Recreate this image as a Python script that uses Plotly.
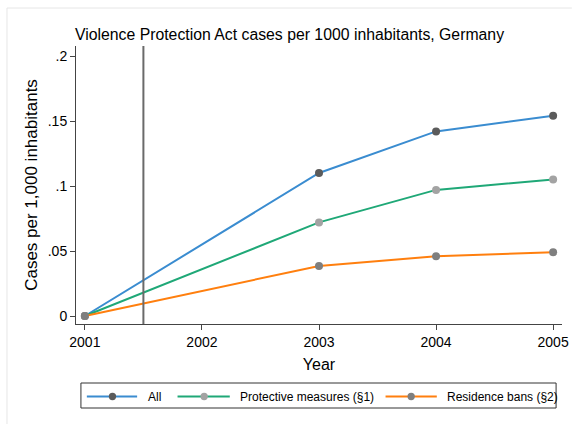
import plotly.graph_objects as go

# Violence Protection Act cases per 1,000 inhabitants
years = [2001, 2003, 2004, 2005]
all_cases = [0.0, 0.110, 0.142, 0.154]
protective = [0.0, 0.072, 0.097, 0.105]
residence = [0.0, 0.0385, 0.046, 0.049]

series_names = ["All", "Protective measures (§1)", "Residence bans (§2)"]
line_colors = ["#3a8cd0", "#1fa877", "#ff7f0e"]
marker_colors = ["#5b5b5b", "#a3a3a3", "#7f7f7f"]

y_tickvals = [0, 0.05, 0.1, 0.15, 0.2]
y_ticktext = ["0", ".05", ".1", ".15", ".2"]
x_tickvals = [2001, 2002, 2003, 2004, 2005]
law_year = 2001.5

W, H = 579, 424
L, R, T, B = 76, 10, 46, 100
PW, PH = W - L - R, H - T - B

FONT = "Liberation Sans, Arial, Helvetica, sans-serif"


def px_x(px):
    return (px - L) / PW


def px_y(py):
    return (H - B - py) / PH


fig = go.Figure()
for vals, name, lc, mc in zip([all_cases, protective, residence],
                              series_names, line_colors, marker_colors):
    fig.add_trace(go.Scatter(
        x=years, y=vals, name=name, mode="lines+markers",
        line=dict(color=lc, width=2),
        marker=dict(color=mc, size=8),
        showlegend=False,
    ))

shapes = [
    # reference year line
    dict(type="line", xref="x", yref="paper", x0=law_year, x1=law_year,
         y0=0, y1=1, line=dict(color="#6a6a6a", width=2)),
    # outer frame
    dict(type="line", xref="paper", yref="paper", x0=px_x(6), x1=px_x(W),
         y0=px_y(8), y1=px_y(8), line=dict(color="#e6e6e6", width=1)),
    dict(type="line", xref="paper", yref="paper", x0=px_x(6), x1=px_x(6),
         y0=px_y(8), y1=px_y(H), line=dict(color="#e6e6e6", width=1)),
    # legend box
    dict(type="rect", xref="paper", yref="paper", x0=px_x(81), x1=px_x(563),
         y0=px_y(383), y1=px_y(408), line=dict(color="#333333", width=1),
         fillcolor="white"),
]
annotations = []

legend_items = [(87, 138, 113, 147), (179, 232, 206, 240), (390, 442, 416, 450)]
ly = 396.5
r = 3.7
for (x0, x1, xd, xt), name, lc, mc in zip(legend_items, series_names,
                                           line_colors, marker_colors):
    shapes.append(dict(type="line", xref="paper", yref="paper",
                       x0=px_x(x0), x1=px_x(x1), y0=px_y(ly), y1=px_y(ly),
                       line=dict(color=lc, width=2)))
    shapes.append(dict(type="circle", xref="paper", yref="paper",
                       x0=px_x(xd - r), x1=px_x(xd + r),
                       y0=px_y(ly + r), y1=px_y(ly - r),
                       fillcolor=mc, line=dict(width=0)))
    annotations.append(dict(xref="paper", yref="paper", x=px_x(xt), y=px_y(ly),
                            xanchor="left", yanchor="middle", showarrow=False,
                            text=name, font=dict(family=FONT, size=12, color="black")))

fig.update_layout(
    width=W, height=H,
    margin=dict(l=L, r=R, t=T, b=B),
    paper_bgcolor="white", plot_bgcolor="white",
    font=dict(family=FONT, color="black"),
    title=dict(text="Violence Protection Act cases per 1000 inhabitants, Germany",
               x=0.5, xref="container", xanchor="center",
               y=1 - 34 / H, yref="container", yanchor="middle",
               font=dict(family=FONT, size=15.8, color="black")),
    shapes=shapes,
    annotations=annotations,
    showlegend=False,
)

fig.update_xaxes(
    range=[2001 - 9 / 118.75, 2005 + 9 / 118.75],
    tickvals=x_tickvals, ticktext=[str(v) for v in x_tickvals],
    ticks="outside", ticklen=5, tickcolor="#444444", tickwidth=1,
    showline=True, linecolor="#444444", linewidth=1,
    showgrid=False, zeroline=False,
    tickfont=dict(family=FONT, size=14),
    title=dict(text="Year", font=dict(family=FONT, size=16), standoff=10),
)
fig.update_yaxes(
    range=[-0.2 * 8 / 260, 0.2 + 0.2 * 10 / 260],
    tickvals=y_tickvals, ticktext=y_ticktext,
    ticks="outside", ticklen=5, tickcolor="#444444", tickwidth=1,
    showline=True, linecolor="#444444", linewidth=1,
    showgrid=False, zeroline=False,
    tickfont=dict(family=FONT, size=14),
    title=dict(text="Cases per 1,000 inhabitants", font=dict(family=FONT, size=17),
               standoff=5),
)

fig.write_html("out.html")
